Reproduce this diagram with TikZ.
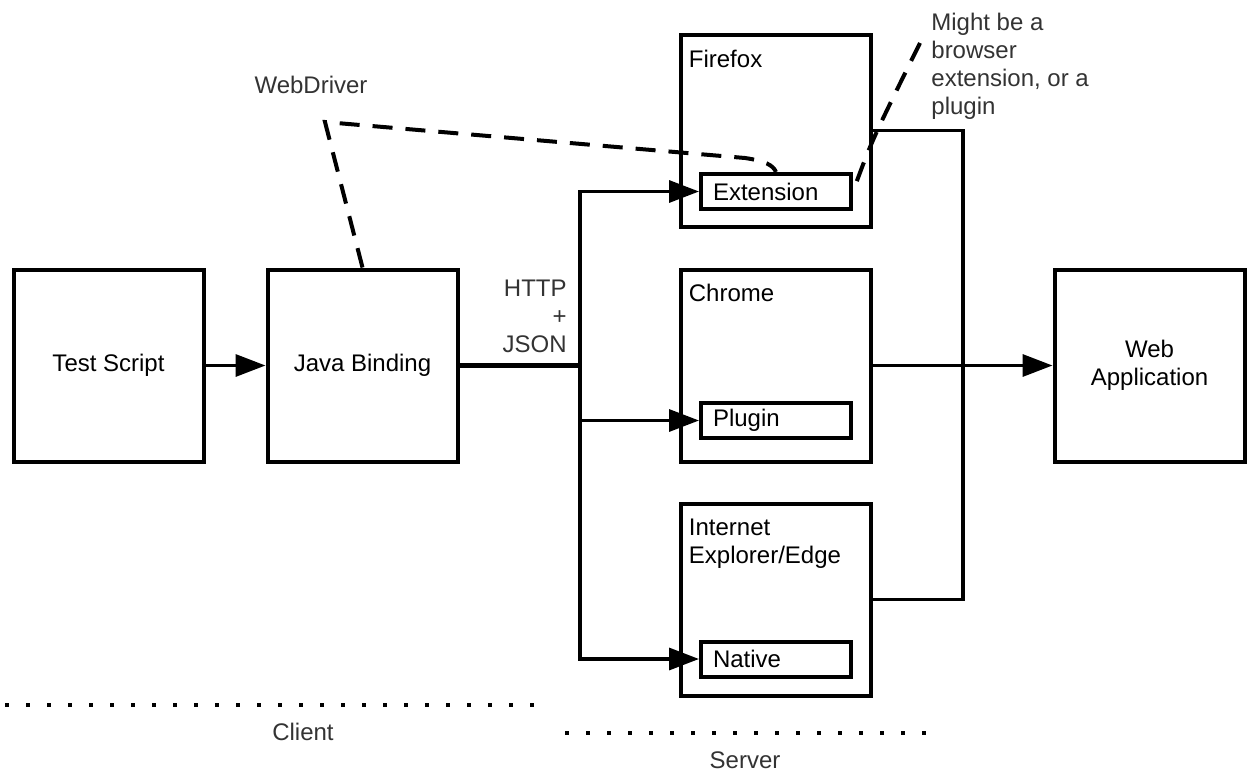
\documentclass[tikz,border=0pt]{standalone}
\usepackage{fontspec}
\setmainfont{Liberation Sans}
\usetikzlibrary{arrows.meta}

\tikzset{
  bigbox/.style={draw, line width=2pt, minimum width=95pt, minimum height=96pt, inner sep=0pt, align=center},
  inbox/.style={draw, line width=2pt, minimum height=17.5pt, text width=63pt, inner xsep=6pt, inner ysep=0pt, align=left},
  headline/.style={anchor=north west, inner sep=0pt, align=left},
  link/.style={line width=1.7pt, -{Triangle[length=15pt,width=11pt]}},
  wire/.style={line width=1.6pt},
  hint/.style={line width=2pt, dash pattern=on 10pt off 6.5pt},
  sideline/.style={line width=2pt, dash pattern=on 2pt off 8.5pt},
  faint/.style={text=black!80, inner sep=0pt},
}

\begin{document}
\begin{tikzpicture}[x=0.5pt,y=-0.5pt,font=\fontsize{12}{14}\selectfont]
    \useasboundingbox (0,0) rectangle (1248,771);

    \node[bigbox] (test) at (108.5,365.5) {Test Script};
    \node[bigbox] (java) at (362.5,365.5) {Java Binding};

    \node[bigbox] (firefox) at (775.5,130.5) {};
    \node[headline] (firefoxname) at ([xshift=5pt,yshift=-8.5pt]firefox.north west) {Firefox};
    \node[inbox] (ext) at (776,191.5) {Extension};

    \node[bigbox] (chrome) at (775.5,365.5) {};
    \node[headline] (chromename) at ([xshift=5pt,yshift=-8pt]chrome.north west) {Chrome};
    \node[inbox] (plugin) at (776,420.5) {Plugin};

    \node[bigbox] (ie) at (775.5,599.5) {};
    \node[headline] (iename) at ([xshift=5pt,yshift=-8.5pt]ie.north west) {Internet\\Explorer/Edge};
    \node[inbox] (native) at (776,659) {Native};

    \node[bigbox] (webapp) at (1149.5,365.5) {Web\\Application};

    \node[faint, anchor=north east, align=right] (proto) at (567,280) {HTTP\\+\\JSON};
    \node[faint, anchor=base] (wdname) at (311,93) {WebDriver};
    \node[faint, anchor=north west, align=left] (note) at (931,12.5) {Might be a\\browser\\extension, or a\\plugin};

    \coordinate (hub) at (580,365.5);
    \coordinate (merge) at (963,365.5);

    \draw[link] (test) -- (java);
    \draw[wire, line width=2.4pt] (java) -- (hub);
    \draw[link] (hub) |- (ext);
    \draw[link] (hub) |- (plugin);
    \draw[link] (hub) |- (native);
    \draw[wire] (firefox) -| (merge);
    \draw[wire] (ie) -| (merge);
    \draw[link] (chrome) -- (webapp);

    % dashed hints
    \coordinate (wdbend) at (325,122);
    \coordinate (wdturn) at (745,158);
    \draw[hint] (java.north) -- (wdbend) -- (wdturn) .. controls (765,161) and (773,165) .. (ext.north);
    \coordinate (notetip) at (920,43);
    \draw[hint] (notetip) .. controls (872,140) .. (ext.east);

    % client / server split
    \coordinate (clientA) at (5,705);
    \coordinate (clientB) at (536,705);
    \draw[sideline] (clientA) -- (clientB);
    \node[faint, anchor=base] (clientname) at (303,740) {Client};
    \coordinate (serverA) at (565,733);
    \coordinate (serverB) at (928,733);
    \draw[sideline] (serverA) -- (serverB);
    \node[faint, anchor=base] (servername) at (745,768) {Server};
\end{tikzpicture}
\end{document}
